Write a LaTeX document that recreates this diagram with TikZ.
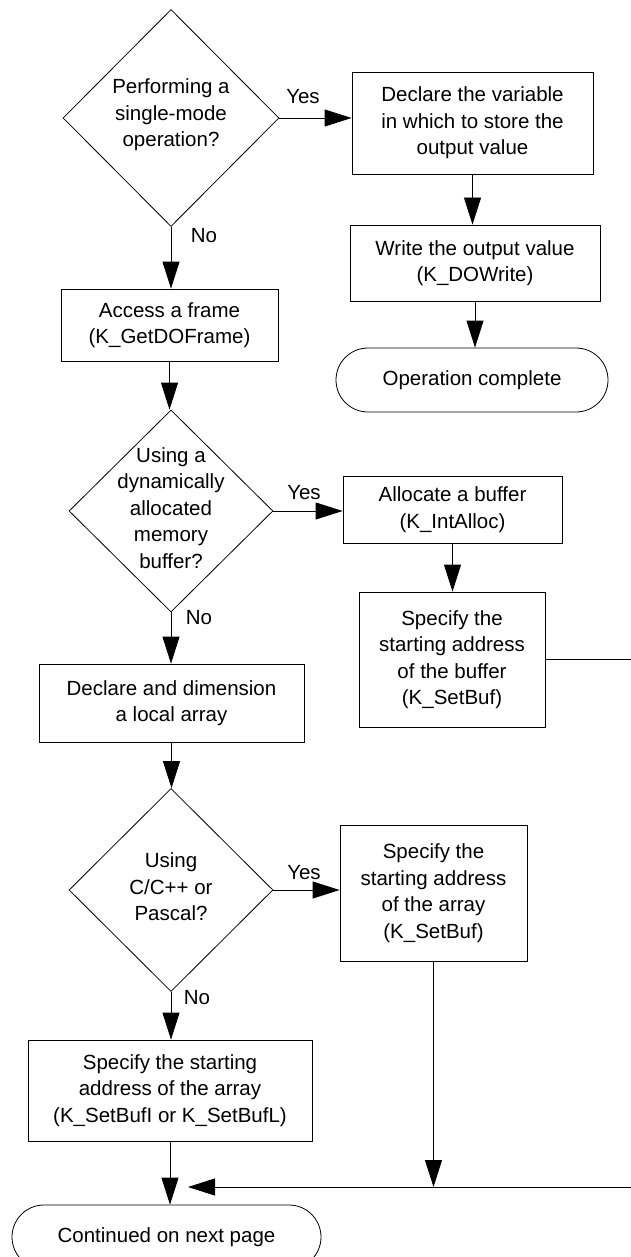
\documentclass[tikz,border=0pt]{standalone}
\usepackage{fontspec}
\setmainfont{Liberation Sans}
\usetikzlibrary{shapes.geometric,shapes.misc,arrows.meta}
\begin{document}
\begin{tikzpicture}[x=1pt,y=-1pt,
  every node/.style={font=\fontsize{20.5}{26.5}\selectfont, inner sep=0pt, align=center},
  box/.style={draw, rectangle, line width=0.8pt},
  stadium/.style={draw, rounded rectangle, line width=0.8pt},
  dia/.style={draw, diamond, line width=0.8pt},
  flow/.style={line width=0.8pt, -{Triangle[length=27pt,width=17pt]}},
  link/.style={line width=0.8pt}]
\useasboundingbox (0,0) rectangle (631,1257);

% decisions
\node[dia, minimum width=216pt, minimum height=217pt] (q1) at (171,118) {};
\node (q1t) at (171,115) {Performing a\\single-mode\\operation?};
\node[dia, minimum width=204pt, minimum height=202pt] (q2) at (171,511) {};
\node (q2t) at (171,508) {Using a\\dynamically\\allocated\\memory\\buffer?};
\node[dia, minimum width=204pt, minimum height=203pt] (q3) at (171,890) {};
\node (q3t) at (171,887) {Using\\C/C++ or\\Pascal?};

% single-mode branch
\node[box, minimum width=241pt, minimum height=102pt] (b1) at (472.5,123)
  {Declare the variable\\in which to store the\\output value};
\node[box, minimum width=250pt, minimum height=76pt] (b2) at (475,263)
  {Write the output value\\(K\_DOWrite)};
\node[stadium, minimum width=272pt, minimum height=64pt] (s1) at (472,380)
  {Operation complete};

% buffered branch
\node[box, minimum width=217pt, minimum height=72pt] (b3) at (169.5,325)
  {Access a frame\\(K\_GetDOFrame)};
\node[box, minimum width=219pt, minimum height=67pt] (b4) at (452.5,509.5)
  {Allocate a buffer\\(K\_IntAlloc)};
\node[box, minimum width=186pt, minimum height=135pt] (b5) at (452,659.5)
  {Specify the\\starting address\\of the buffer\\(K\_SetBuf)};
\node[box, minimum width=265pt, minimum height=78pt] (b6) at (171.5,703)
  {Declare and dimension\\a local array};
\node[box, minimum width=187pt, minimum height=136pt] (b7) at (433.5,893)
  {Specify the\\starting address\\of the array\\(K\_SetBuf)};
\node[box, minimum width=284pt, minimum height=101pt] (b8) at (170,1090.5)
  {Specify the starting\\address of the array\\(K\_SetBufI or K\_SetBufL)};
\node[stadium, minimum width=309pt, minimum height=64pt] (s2) at (166.5,1237)
  {Continued on next page};

% branch labels
\node (y1) at (303,97) {Yes};
\node (y2) at (304,493) {Yes};
\node (y3) at (304,873) {Yes};
\node (n1) at (204,236) {No};
\node (n2) at (199,618) {No};
\node (n3) at (197,998) {No};

% junction points
\coordinate (merge) at (188,1187);
\coordinate (rim) at (640,0);

% connectors
\draw[flow] (q1.east) -- (q1.east -| b1.west);
\draw[flow] (b1.south) -- (b1.south |- b2.north);
\draw[flow] (b2.south) -- (b2.south |- s1.north);
\draw[flow] (q1.south) -- (q1.south |- b3.north);
\draw[flow] (b3.south) -- (b3.south |- q2.north);
\draw[flow] (q2.east) -- (q2.east -| b4.west);
\draw[flow] (b4.south) -- (b4.south |- b5.north);
\draw[flow] (b5.east) -- (b5.east -| rim) -- (rim |- merge) -- (merge);
\draw[flow] (q2.south) -- (q2.south |- b6.north);
\draw[flow] (b6.south) -- (b6.south |- q3.north);
\draw[flow] (q3.east) -- (q3.east -| b7.west);
\draw[flow] (b7.south) -- (b7.south |- merge);
\draw[flow] (q3.south) -- (q3.south |- b8.north);
\draw[flow] (b8.south) -- (b8.south |- s2.north);
\end{tikzpicture}
\end{document}
